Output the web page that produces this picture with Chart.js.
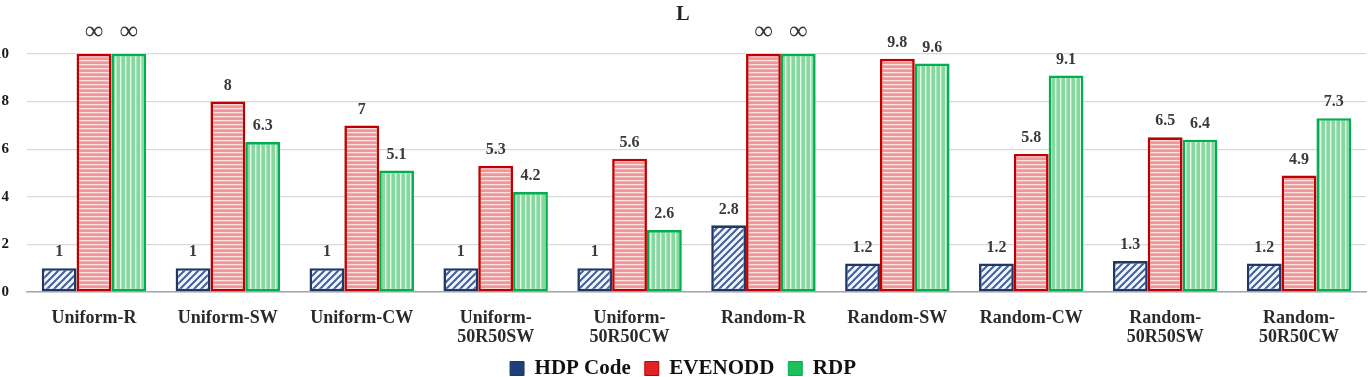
<!DOCTYPE html>
<html>
<head>
    <title>L</title>
    <script src="https://cdn.jsdelivr.net/npm/chart.js"></script>
    <style>
        body { margin: 0; background: #fff; }
    </style>
</head>
<body>

<canvas id="lChart" width="1372" height="377"></canvas>

<script>
    // chart data (Infinity = the bars marked with ∞)
    const categories = [
        ['Uniform-R'], ['Uniform-SW'], ['Uniform-CW'], ['Uniform-', '50R50SW'], ['Uniform-', '50R50CW'],
        ['Random-R'], ['Random-SW'], ['Random-CW'], ['Random-', '50R50SW'], ['Random-', '50R50CW']
    ];
    const seriesNames = ['HDP Code', 'EVENODD', 'RDP'];
    const hdpValues = [1, 1, 1, 1, 1, 2.8, 1.2, 1.2, 1.3, 1.2];
    const evenoddValues = [Infinity, 8, 7, 5.3, 5.6, Infinity, 9.8, 5.8, 6.5, 4.9];
    const rdpValues = [Infinity, 6.3, 5.1, 4.2, 2.6, Infinity, 9.6, 9.1, 6.4, 7.3];
    const yTicks = [0, 2, 4, 6, 8, 10];

    const yMax = yTicks[yTicks.length - 1];
    const serif = "'Liberation Serif', 'Times New Roman', serif";

    // hatch fills like the office chart patterns
    function makePattern(kind) {
        const c = document.createElement('canvas');
        const g = c.getContext('2d');
        if (kind === 'diag') {
            c.width = 7; c.height = 7;
            g.fillStyle = '#f2f5fb';
            g.fillRect(0, 0, 7, 7);
            g.strokeStyle = '#40609e';
            g.lineWidth = 2;
            g.beginPath();
            g.moveTo(-1, 8); g.lineTo(8, -1);
            g.moveTo(-4.5, 4.5); g.lineTo(4.5, -4.5);
            g.moveTo(2.5, 11.5); g.lineTo(11.5, 2.5);
            g.stroke();
        } else if (kind === 'horiz') {
            c.width = 4; c.height = 4;
            g.fillStyle = '#f0959a';
            g.fillRect(0, 0, 4, 4);
            g.fillStyle = '#fde0e0';
            g.fillRect(0, 0, 4, 1.3);
        } else {
            c.width = 5; c.height = 5;
            g.fillStyle = '#86d99e';
            g.fillRect(0, 0, 5, 5);
            g.fillStyle = '#e4f8ea';
            g.fillRect(0, 0, 1.4, 5);
        }
        return g.createPattern(c, 'repeat');
    }

    const borderColors = ['#1f3864', '#c00000', '#00b050'];
    const legendColors = ['#1f3f7a', '#e02424', '#1fbf5a'];
    const rawSeries = [hdpValues, evenoddValues, rdpValues];
    const fills = [makePattern('diag'), makePattern('horiz'), makePattern('vert')];

    // value labels on top of the bars
    const barLabels = {
        id: 'barLabels',
        afterDatasetsDraw(chart) {
            const ctx = chart.ctx;
            ctx.save();
            ctx.textAlign = 'center';
            ctx.textBaseline = 'middle';
            chart.data.datasets.forEach((ds, di) => {
                const meta = chart.getDatasetMeta(di);
                meta.data.forEach((bar, i) => {
                    const v = rawSeries[di][i];
                    if (isFinite(v)) {
                        ctx.font = 'bold 16px ' + serif;
                        ctx.fillStyle = '#3a3a3a';
                        ctx.fillText(String(v), bar.x, bar.y - 16);
                    } else {
                        ctx.font = '26px ' + serif;
                        ctx.fillStyle = '#333';
                        ctx.fillText('\u221E', bar.x, bar.y - 22);
                    }
                });
            });
            ctx.restore();
        }
    };

    const ctx = document.getElementById('lChart').getContext('2d');
    const lChart = new Chart(ctx, {
        type: 'bar',
        data: {
            labels: categories,
            datasets: rawSeries.map((vals, i) => ({
                label: seriesNames[i],
                data: vals.map(v => isFinite(v) ? v : yMax),
                backgroundColor: fills[i],
                borderColor: borderColors[i],
                borderWidth: 2.6,
                borderSkipped: false,
                barPercentage: 1.0,
                categoryPercentage: 0.78
            }))
        },
        options: {
            responsive: false,
            animation: false,
            layout: {
                padding: { left: 0, right: 6, top: 0, bottom: -12 }
            },
            plugins: {
                title: {
                    display: true,
                    text: 'L',
                    color: '#222',
                    font: { family: serif, size: 20, weight: 'bold' },
                    padding: { top: 3, bottom: 27 }
                },
                legend: {
                    position: 'bottom',
                    labels: {
                        color: '#111',
                        font: { family: serif, size: 21, weight: 'bold' },
                        boxWidth: 14,
                        boxHeight: 14,
                        padding: 14,
                        generateLabels(chart) {
                            const items = Chart.defaults.plugins.legend.labels.generateLabels(chart);
                            items.forEach((it, i) => {
                                it.fillStyle = legendColors[i];
                                it.strokeStyle = borderColors[i];
                                it.lineWidth = 1;
                            });
                            return items;
                        }
                    }
                },
                tooltip: { enabled: false }
            },
            scales: {
                x: {
                    grid: { display: false, drawTicks: false },
                    border: { display: true, color: '#a6a6a6', width: 1.5 },
                    ticks: {
                        color: '#2a2a2a',
                        font: { family: serif, size: 18, weight: 'bold', lineHeight: 1.1 },
                        padding: 16,
                        maxRotation: 0,
                        autoSkip: false
                    },
                    afterFit(s) { s.height = 52; }
                },
                y: {
                    min: 0,
                    max: yMax,
                    afterBuildTicks(s) { s.ticks = yTicks.map(v => ({ value: v })); },
                    grid: {
                        color: '#d9d9d9',
                        lineWidth: 1.3,
                        drawTicks: false
                    },
                    border: { display: false },
                    ticks: {
                        color: '#1a1a1a',
                        font: { family: serif, size: 15, weight: 'bold' },
                        padding: 18
                    },
                    afterFit(s) { s.width = 27; }
                }
            }
        },
        plugins: [barLabels]
    });
</script>

</body>
</html>
